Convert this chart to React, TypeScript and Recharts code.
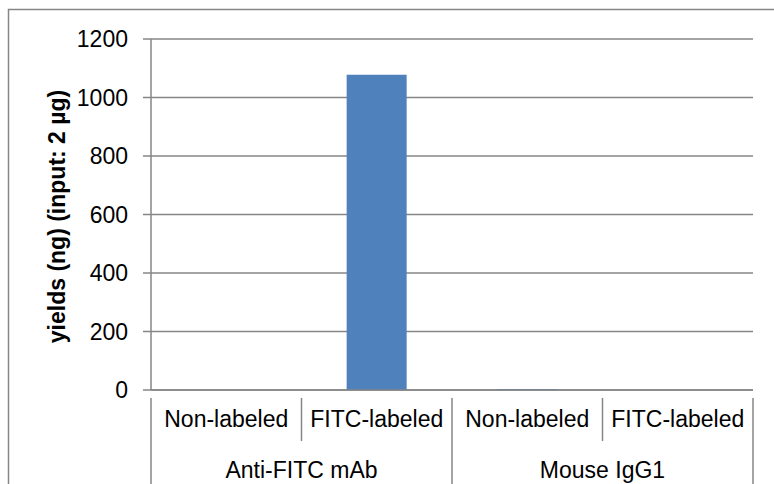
import { BarChart, Bar, XAxis, YAxis, CartesianGrid } from 'recharts'

const groups = ['Anti-FITC mAb', 'Anti-FITC mAb', 'Mouse IgG1', 'Mouse IgG1']
const labels = ['Non-labeled', 'FITC-labeled', 'Non-labeled', 'FITC-labeled']
const yields = [0, 1078, 3, 0]
const yTicks = [0, 200, 400, 600, 800, 1000, 1200]

const data = labels.map((label, i) => ({ key: `${groups[i]}|${label}`, label, group: groups[i], value: yields[i] }))

const FONT = '"Liberation Sans", Arial, sans-serif'
const LINE = '#868686'

function CategoryTick(props: any) {
  const { x, y, payload } = props
  const i = payload.index
  const half = payload.offset
  const left = x - half
  const right = x + half
  const newGroup = i === 0 || groups[i] !== groups[i - 1]
  const last = i === labels.length - 1
  let groupCount = 0
  if (newGroup) {
    for (let j = i; j < groups.length && groups[j] === groups[i]; j++) groupCount++
  }
  return (
    <g>
      <line x1={left} x2={left} y1={y} y2={newGroup ? y + 87 : y + 43} stroke={LINE} strokeWidth={1.5} />
      {last && <line x1={right} x2={right} y1={y} y2={y + 87} stroke={LINE} strokeWidth={1.5} />}
      <text x={x} y={y + 29} textAnchor="middle" fontSize={23} fontFamily={FONT} fill="#000">
        {labels[i]}
      </text>
      {newGroup && (
        <text x={left + groupCount * half} y={y + 80} textAnchor="middle" fontSize={23} fontFamily={FONT} fill="#000">
          {groups[i]}
        </text>
      )}
    </g>
  )
}

function YTitle(props: any) {
  const vb = props.viewBox || { y: 39, height: 351 }
  const cx = 57
  const cy = vb.y + vb.height / 2 + 2
  return (
    <text
      x={cx}
      y={cy}
      transform={`rotate(-90 ${cx} ${cy})`}
      textAnchor="middle"
      dominantBaseline="central"
      fontSize={23}
      fontWeight="bold"
      fontFamily={FONT}
      fill="#000"
    >
      yields (ng) (input: 2 µg)
    </text>
  )
}

export default function App() {
  return (
    <div style={{ position: 'absolute', left: 0, top: 0, width: 774, height: 484, background: '#fff', overflow: 'hidden' }}>
      <svg width={774} height={484} style={{ position: 'absolute', left: 0, top: 0 }}>
        <rect x={8.5} y={9.5} width={800} height={520} fill="none" stroke={LINE} strokeWidth={1.5} />
      </svg>
      <div style={{ position: 'absolute', left: 0, top: 0 }}>
        <BarChart width={774} height={484} data={data} margin={{ top: 39, right: 21, left: 0, bottom: 0 }} barCategoryGap="30%">
          <CartesianGrid vertical={false} stroke={LINE} strokeWidth={1.5} />
          <XAxis
            dataKey="key"
            height={94}
            tickLine={false}
            axisLine={{ stroke: LINE, strokeWidth: 1.5 }}
            tick={<CategoryTick />}
            interval={0}
          />
          <YAxis
            width={151}
            domain={[0, 1200]}
            ticks={yTicks}
            interval={0}
            tickSize={8}
            tickMargin={15}
            tickLine={{ stroke: LINE, strokeWidth: 1.5 }}
            axisLine={{ stroke: LINE, strokeWidth: 1.5 }}
            tick={{ fontSize: 23, fontFamily: FONT, fill: '#000' }}
            label={{ content: <YTitle /> }}
          />
          <Bar dataKey="value" fill="#4F81BD" isAnimationActive={false} />
        </BarChart>
      </div>
    </div>
  )
}
